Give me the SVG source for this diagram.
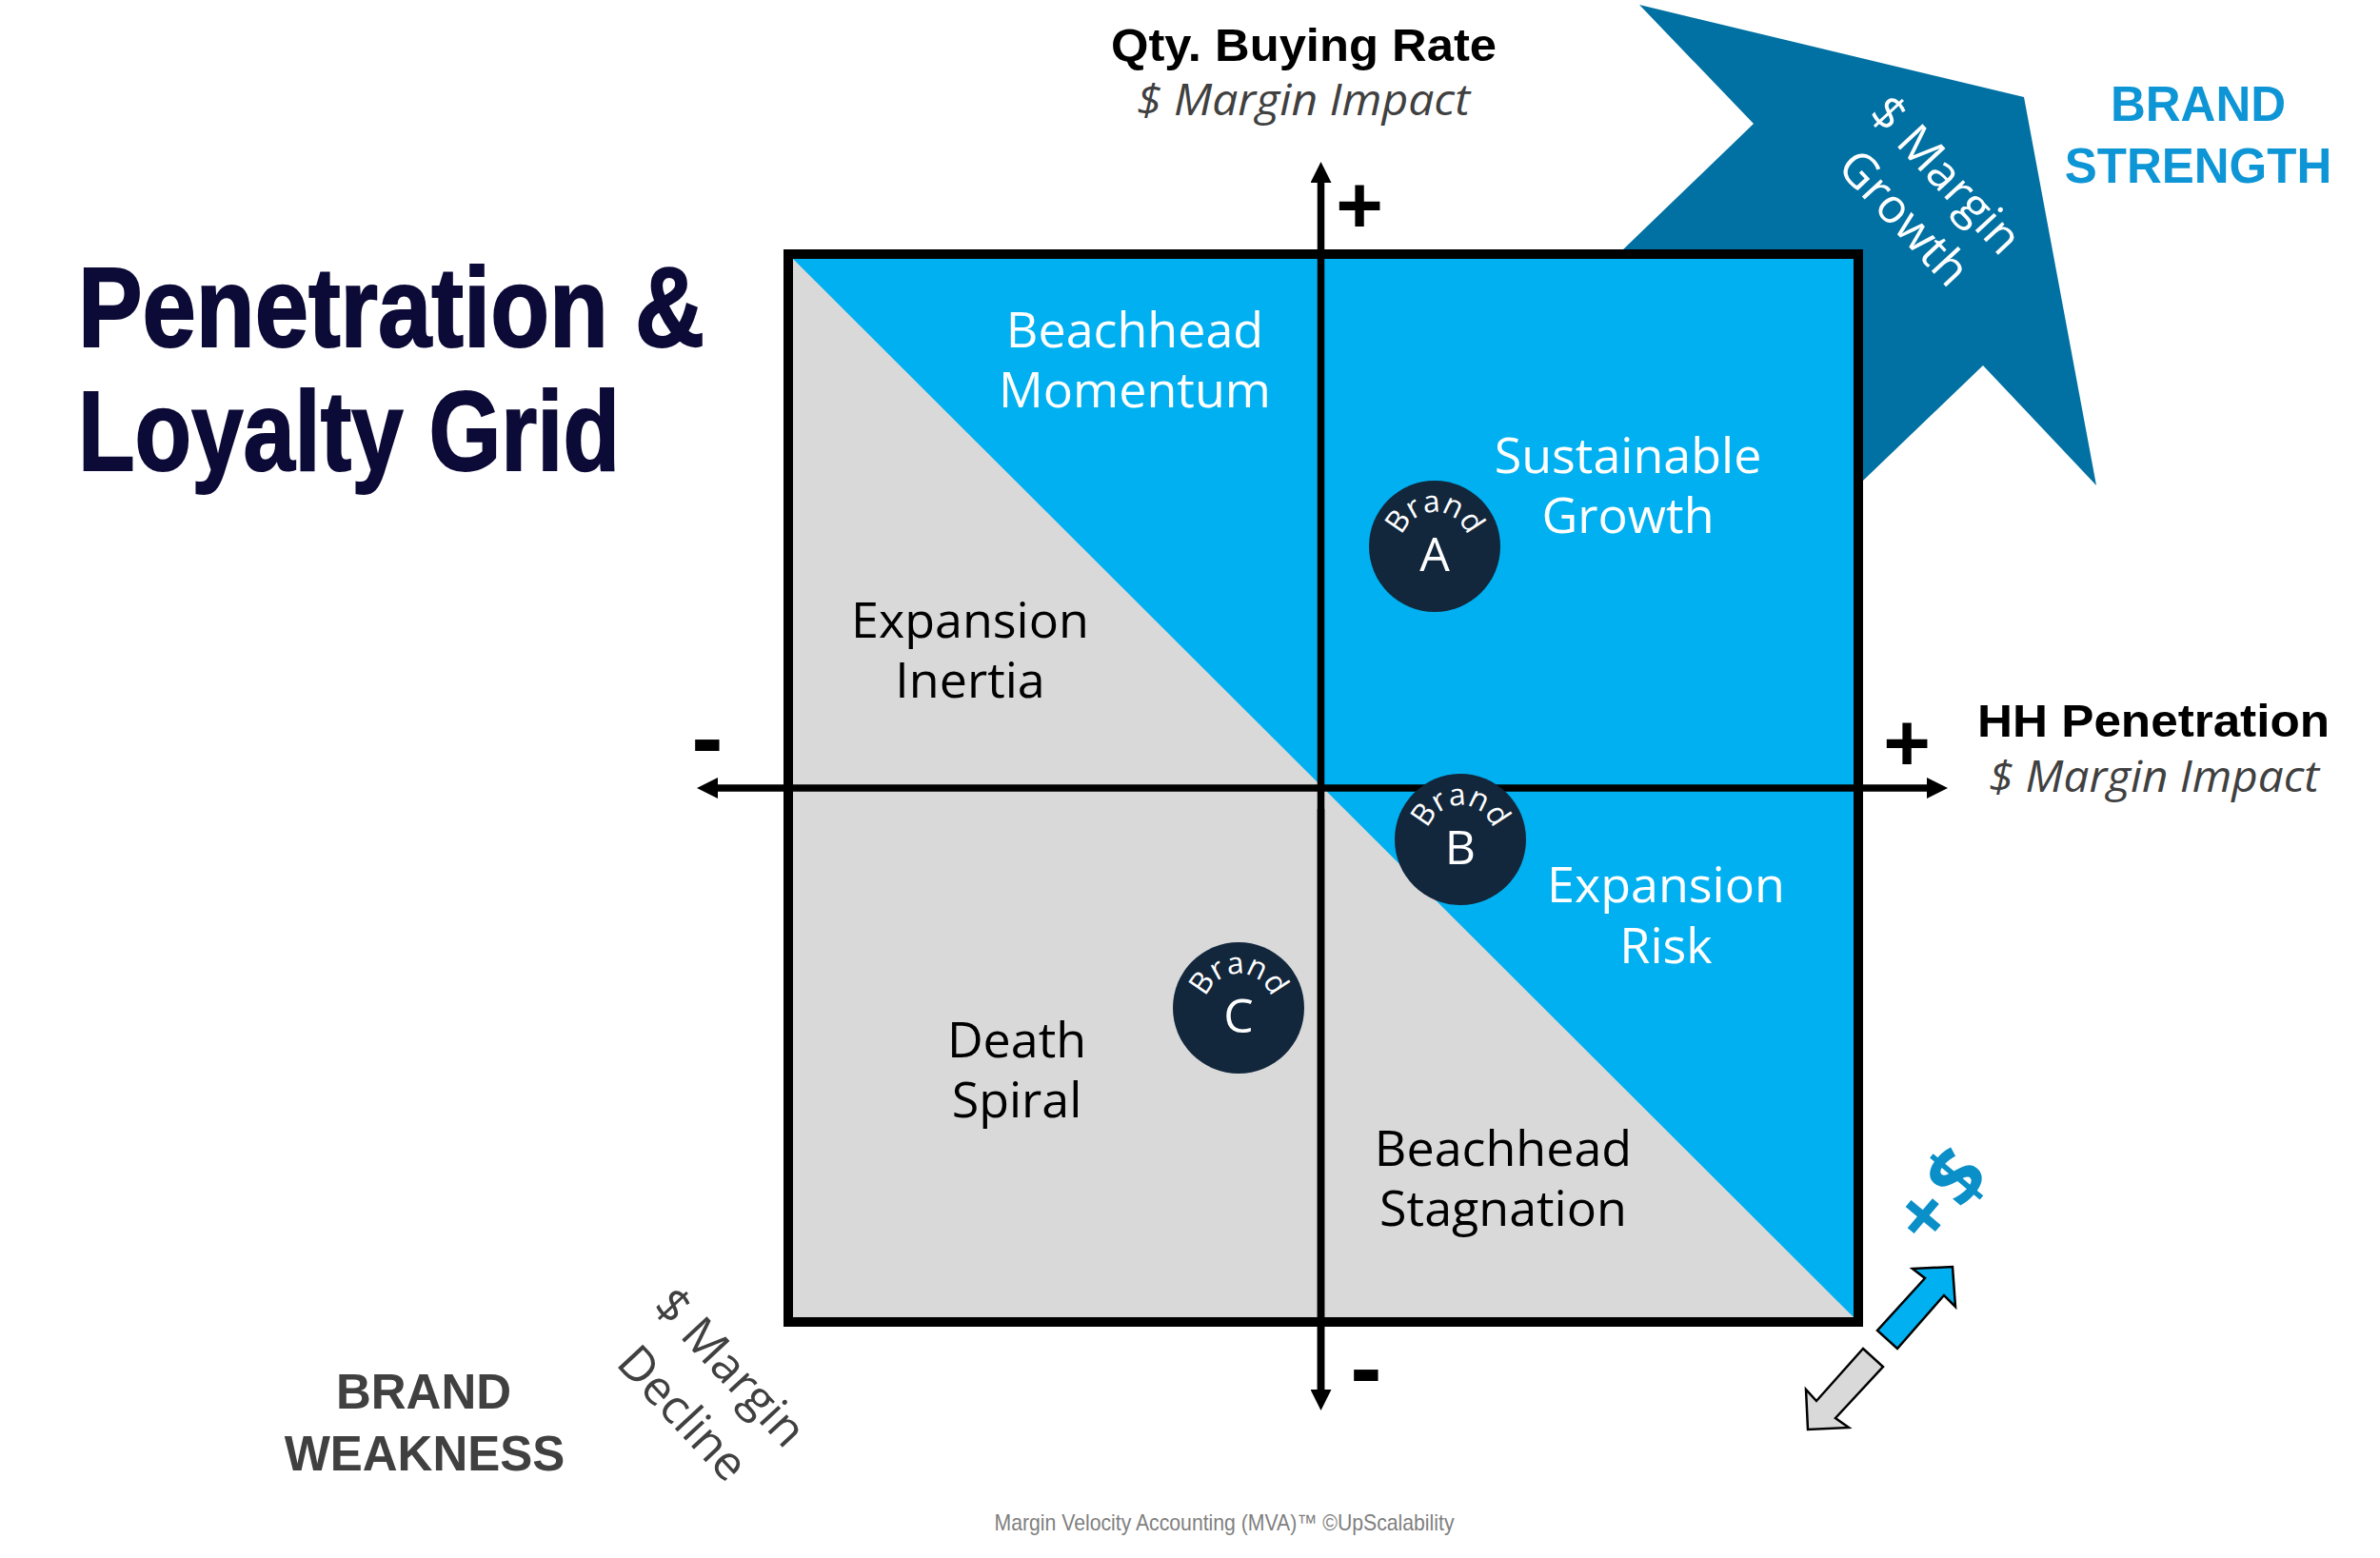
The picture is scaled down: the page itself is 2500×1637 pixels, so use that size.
<svg xmlns="http://www.w3.org/2000/svg" width="2500" height="1637" viewBox="0 0 2500 1637">
  <defs>
    <style>
      .title { font-family: "Liberation Sans", Arial, sans-serif; font-weight: bold; font-size: 119px; fill: #0C0A36; stroke: #0C0A36; stroke-width: 2; }
      .axis { font-family: "Liberation Sans", Arial, sans-serif; font-weight: bold; font-size: 48px; fill: #000; }
      .sub { font-family: "Open Sans", "Liberation Sans", sans-serif; font-style: italic; font-size: 45px; fill: #404040; }
      .sign { font-family: "Liberation Sans", Arial, sans-serif; font-weight: bold; fill: #000; text-anchor: middle; }
      .q { font-family: "Open Sans", "Liberation Sans", sans-serif; font-size: 52px; text-anchor: middle; }
      .qw { fill: #FFFFFF; }
      .qd { fill: #000000; }
      .big { font-family: "Liberation Sans", Arial, sans-serif; font-weight: bold; font-size: 51px; text-anchor: middle; }
      .rot { font-family: "Open Sans", "Liberation Sans", sans-serif; font-size: 50px; text-anchor: middle; }
      .brand { font-family: "Open Sans", "Liberation Sans", sans-serif; font-size: 32px; fill: #FFFFFF; }
      .letter { font-family: "Open Sans", "Liberation Sans", sans-serif; font-size: 50px; fill: #FFFFFF; text-anchor: middle; }
      .dot { fill: #12263C; }
      .axisline { stroke: #000; stroke-width: 7.5; fill: none; }
      .smallarrow { stroke: #000; stroke-width: 2.5; stroke-linejoin: miter; }
    </style>
    <marker id="ah" viewBox="0 0 22 22" refX="0" refY="11" markerWidth="22" markerHeight="22" markerUnits="userSpaceOnUse" orient="auto">
      <path d="M0,0 L22,11 L0,22 Z" fill="#000"/>
    </marker>
    <path id="arcA" d="M1471,574 A36,36 0 0 1 1543,574"/>
    <path id="arcB" d="M1498,882 A36,36 0 0 1 1570,882"/>
    <path id="arcC" d="M1265,1059 A36,36 0 0 1 1337,1059"/>
  </defs>

  <rect x="0" y="0" width="2500" height="1637" fill="#FFFFFF"/>

  <!-- Big brand strength arrow (behind the grid) -->
  <g id="growth-arrow">
    <polygon points="1722,5 2126,102 2202,510 2083,384 1833,624 1592,371 1842,130" fill="#0071A2"/>
    <g transform="translate(2044,184) rotate(47)">
      <text class="rot" x="0" y="17" fill="#FFFFFF">$ Margin</text>
    </g>
    <g transform="translate(2000,229) rotate(47)">
      <text class="rot" x="0" y="17" fill="#FFFFFF">Growth</text>
    </g>
  </g>

  <!-- Grid -->
  <g id="grid">
    <rect x="828" y="267" width="1124" height="1122" fill="#D9D9D9"/>
    <polygon points="833,272 1947,272 1947,1384" fill="#00B0F0"/>
    <rect x="828" y="267" width="1124" height="1122" fill="none" stroke="#000" stroke-width="10"/>
  </g>

  <!-- Connectors: axes and small arrows -->
  <g id="connectors">
    <line class="axisline" x1="1387.5" y1="1460" x2="1387.5" y2="192" marker-end="url(#ah)"/>
    <line class="axisline" x1="1387.5" y1="850" x2="1387.5" y2="1460" marker-end="url(#ah)"/>
    <line class="axisline" x1="1387.5" y1="828" x2="2024" y2="828" marker-end="url(#ah)"/>
    <line class="axisline" x1="1387.5" y1="828" x2="754" y2="828" marker-end="url(#ah)"/>
    <polygon class="smallarrow" points="2009,1333 2051,1331 2054,1373 2042,1361 1993,1417 1972,1398 2022,1343" fill="#00B0F0"/>
    <polygon class="smallarrow" points="1957,1417 1978,1436 1928,1490 1942,1500 1899,1502 1897,1460 1908,1472" fill="#D9D9D9"/>
  </g>

  <!-- Axis signs -->
  <g id="signs">
    <text class="sign" x="1428" y="245" font-size="85">+</text>
    <text class="sign" x="2003" y="810" font-size="85">+</text>
    <text class="sign" x="743" y="809" font-size="100">-</text>
    <text class="sign" x="1435" y="1471" font-size="100">-</text>
  </g>

  <!-- Title -->
  <g id="title">
    <text class="title" x="82" y="364" textLength="658" lengthAdjust="spacingAndGlyphs">Penetration &amp;</text>
    <text class="title" x="82" y="494" textLength="569" lengthAdjust="spacingAndGlyphs">Loyalty Grid</text>
  </g>

  <!-- Axis labels -->
  <g id="y-axis-label">
    <text class="axis" x="1167" y="64" textLength="405" lengthAdjust="spacingAndGlyphs">Qty. Buying Rate</text>
    <text class="sub" x="1194" y="121" textLength="350" lengthAdjust="spacingAndGlyphs">$ Margin Impact</text>
  </g>
  <g id="x-axis-label">
    <text class="axis" x="2077" y="774" textLength="370" lengthAdjust="spacingAndGlyphs">HH Penetration</text>
    <text class="sub" x="2089" y="832" textLength="347" lengthAdjust="spacingAndGlyphs">$ Margin Impact</text>
  </g>

  <!-- Brand strength / weakness -->
  <g id="brand-strength">
    <text class="big" x="2309" y="127" fill="#0E95D5">BRAND</text>
    <text class="big" x="2309" y="192" fill="#0E95D5">STRENGTH</text>
  </g>
  <g id="brand-weakness">
    <text class="big" x="445" y="1480" fill="#404040">BRAND</text>
    <text class="big" x="446" y="1545" fill="#404040">WEAKNESS</text>
  </g>
  <g id="margin-decline">
    <g transform="translate(767,1437) rotate(47)">
      <text class="rot" x="0" y="17" fill="#404040" font-weight="500">$ Margin</text>
    </g>
    <g transform="translate(717,1485) rotate(47)">
      <text class="rot" x="0" y="17" fill="#404040" font-weight="500">Decline</text>
    </g>
  </g>
  <g id="plus-dollar">
    <g transform="translate(2040,1255) rotate(-50)">
      <text x="0" y="29" font-family="'Open Sans', 'Liberation Sans', sans-serif" font-weight="bold" font-size="84" fill="#0A8FC8" text-anchor="middle" letter-spacing="6">+$</text>
    </g>
  </g>

  <!-- Quadrant labels -->
  <g id="beachhead-momentum">
    <text class="q qw" x="1192" y="365">Beachhead</text>
    <text class="q qw" x="1192" y="428">Momentum</text>
  </g>
  <g id="sustainable-growth">
    <text class="q qw" x="1710" y="497">Sustainable</text>
    <text class="q qw" x="1710" y="560">Growth</text>
  </g>
  <g id="expansion-inertia">
    <text class="q qd" x="1019" y="670">Expansion</text>
    <text class="q qd" x="1019" y="733">Inertia</text>
  </g>
  <g id="expansion-risk">
    <text class="q qw" x="1750" y="948">Expansion</text>
    <text class="q qw" x="1750" y="1012">Risk</text>
  </g>
  <g id="death-spiral">
    <text class="q qd" x="1068" y="1111">Death</text>
    <text class="q qd" x="1068" y="1174">Spiral</text>
  </g>
  <g id="beachhead-stagnation">
    <text class="q qd" x="1579" y="1225">Beachhead</text>
    <text class="q qd" x="1579" y="1288">Stagnation</text>
  </g>

  <!-- Brand markers -->
  <g id="brand-a">
    <circle class="dot" cx="1507" cy="574" r="69"/>
    <text class="brand"><textPath href="#arcA" startOffset="50%" text-anchor="middle">Brand</textPath></text>
    <text class="letter" x="1507" y="600">A</text>
  </g>
  <g id="brand-b">
    <circle class="dot" cx="1534" cy="882" r="69"/>
    <text class="brand"><textPath href="#arcB" startOffset="50%" text-anchor="middle">Brand</textPath></text>
    <text class="letter" x="1534" y="908">B</text>
  </g>
  <g id="brand-c">
    <circle class="dot" cx="1301" cy="1059" r="69"/>
    <text class="brand"><textPath href="#arcC" startOffset="50%" text-anchor="middle">Brand</textPath></text>
    <text class="letter" x="1301" y="1085">C</text>
  </g>

  <!-- Footer -->
  <g id="footer">
    <text x="1286" y="1608" font-family="'Liberation Sans', Arial, sans-serif" font-size="24" fill="#7F7F7F" text-anchor="middle" textLength="483" lengthAdjust="spacingAndGlyphs">Margin Velocity Accounting (MVA)™ ©UpScalability</text>
  </g>
</svg>
